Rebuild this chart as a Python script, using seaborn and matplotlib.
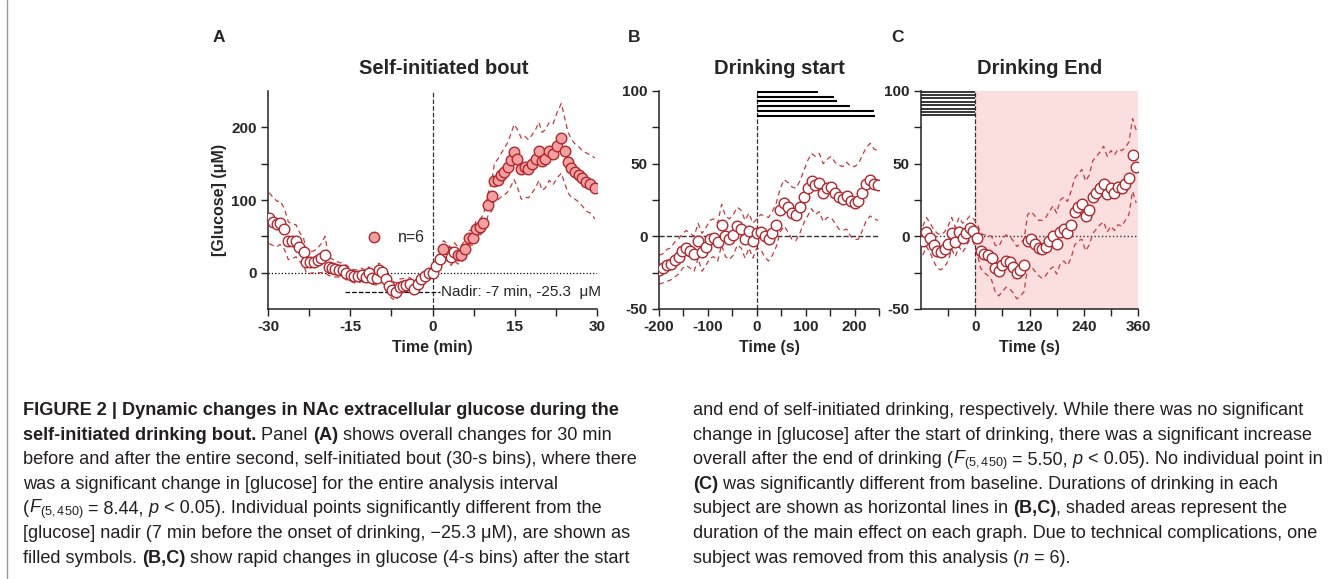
import numpy as np
import pandas as pd
import matplotlib
matplotlib.use("Agg")
import matplotlib.pyplot as plt
import seaborn as sns
from matplotlib.lines import Line2D

# ---- panel A: 30-s bins, mean and SEM (uM) ----
a_t_pre = [-29.8, -29.0, -28.3, -27.8, -27.0, -26.3, -25.6, -24.9, -24.3, -23.5,
           -23.0, -22.4, -21.6, -20.9, -20.3, -19.6, -18.9, -18.3, -17.7, -17.0,
           -16.3, -15.7, -14.9, -14.3, -13.5, -12.9, -12.2, -11.6, -11.0, -10.2,
           -9.8, -9.3, -8.5, -7.9, -7.3, -6.6, -6.0, -5.4, -4.8, -4.1,
           -3.4, -2.7, -2.1, -1.3, -0.7]
a_v_pre = [75, 70, 67, 69, 60, 44, 43, 44, 36, 29,
           15, 14, 15, 17, 20, 25, 8, 7, 5, 4,
           3, 0, -3, -5, -5, -3, -6, -1, -7, -8,
           3, 1, -9, -19, -24, -26, -20, -18, -17, -16,
           -22, -16, -9, -5, -1]
a_sem_pre = [35, 33, 31, 30, 28, 26, 24, 22, 20, 18,
             16, 15, 15, 17, 20, 25, 12, 12, 11, 10,
             10, 10, 9, 9, 9, 9, 9, 9, 9, 9,
             10, 10, 11, 12, 12, 12, 11, 10, 9, 9,
             8, 8, 7, 6, 5]
a_t_post = [0.0, 0.7, 1.3, 2.0, 2.7, 3.4, 4.0, 4.6, 5.2, 5.9,
            6.6, 7.3, 7.9, 8.7, 9.3, 10.1, 10.8, 11.3, 11.9, 12.5,
            13.1, 13.7, 14.3, 14.9, 15.5, 16.2, 16.8, 17.5, 18.1, 18.8,
            19.4, 20.0, 20.6, 21.3, 22.0, 22.7, 23.5, 24.1, 24.7, 25.3,
            26.0, 26.7, 27.3, 28.0, 28.8, 29.6]
a_v_post = [0, 9, 19, 32, 28, 22, 29, 24, 25, 32,
            48, 48, 60, 63, 68, 93, 105, 126, 128, 134,
            139, 145, 155, 166, 157, 143, 146, 143, 149, 157,
            167, 153, 157, 167, 163, 175, 185, 168, 152, 144,
            139, 135, 130, 125, 122, 116]
a_sem_post = [5, 8, 10, 12, 12, 12, 12, 12, 12, 12,
              10, 10, 10, 11, 12, 15, 20, 25, 28, 30,
              32, 34, 36, 38, 40, 42, 42, 40, 40, 40,
              40, 40, 40, 40, 42, 45, 48, 45, 42, 40,
              38, 38, 38, 40, 40, 42]
a_open_after_zero = [0.0, 0.7, 1.3, 2.7, 3.4, 4.0]   # not significant vs nadir

# ---- panel B: drinking start (4-s bins shown every 8 s) ----
b_t = list(range(-200, 249, 8))
b_v = [-23, -22, -20, -19, -16, -14, -10, -8, -10, -12,
       -3, -11, -7, -2, -1, -4, 8, 0, -2, 1,
       7, 5, -2, 4, -3, 2, 3, 0, -2, 2,
       8, 18, 23, 20, 16, 15, 20, 27, 33, 38,
       35, 37, 30, 33, 34, 30, 27, 26, 28, 24,
       23, 24, 30, 36, 39, 36, 35]
b_sem = [10, 10, 11, 11, 12, 12, 12, 12, 12, 12,
         12, 13, 13, 13, 13, 13, 14, 14, 14, 14,
         13, 13, 13, 12, 12, 10, 12, 14, 15, 15,
         15, 15, 16, 17, 18, 18, 18, 18, 19, 19,
         20, 20, 20, 20, 21, 21, 22, 22, 23, 24,
         25, 26, 26, 25, 25, 24, 24]
b_drink = [125, 158, 164, 190, 239, 242]   # drinking durations (s)

# ---- panel C: drinking end ----
c_t = list(range(-116, 357, 8))
c_v = [-3, 3, -1, -6, -10, -11, -9, -5, 2, -4,
       3, -1, 2, 6, 4, -1, -10, -12, -13, -15,
       -22, -24, -20, -17, -18, -21, -25, -23, -20, -3,
       -2, -5, -8, -9, -7, -3, 0, -5, 3, 5,
       2, 8, 17, 20, 22, 14, 18, 27, 30, 33,
       36, 29, 33, 30, 34, 33, 36, 40, 56, 48]
c_sem = [10, 10, 10, 11, 12, 12, 12, 12, 11, 10,
         10, 10, 9, 8, 8, 10, 12, 13, 14, 15,
         16, 17, 18, 18, 18, 18, 18, 18, 18, 18,
         19, 19, 19, 20, 20, 20, 21, 21, 22, 22,
         22, 23, 23, 23, 24, 24, 24, 25, 25, 25,
         26, 26, 26, 26, 26, 26, 25, 25, 25, 25]
c_n_lines = 8

W, H = 1341, 579
EDGE = "#b3262b"
FILL = "#f3a0a0"
BAND = "#c43a3e"
SHADE = "#fbdede"

sns.set_style("ticks")
plt.rcParams["font.family"] = ["Liberation Sans", "DejaVu Sans"]
plt.rcParams["axes.unicode_minus"] = False
plt.rcParams["mathtext.fontset"] = "custom"
plt.rcParams["mathtext.rm"] = "Liberation Sans"
plt.rcParams["mathtext.it"] = "Liberation Sans:italic"
plt.rcParams["mathtext.bf"] = "Liberation Sans:bold"

fig = plt.figure(figsize=(W / 100, H / 100), dpi=100)


def ax_at(l, t, r, b):
    return fig.add_axes([l / W, 1 - b / H, (r - l) / W, (b - t) / H])


def style_axis(ax):
    sns.despine(ax=ax)
    for s in ["left", "bottom"]:
        ax.spines[s].set_color("#222222")
        ax.spines[s].set_linewidth(1.1)
    ax.tick_params(which="both", length=5, width=1, color="#222222",
                   labelsize=11, pad=3)
    for lbl in ax.get_xticklabels() + ax.get_yticklabels():
        lbl.set_fontweight("bold")
    ax.set_xlabel(ax.get_xlabel(), fontsize=11.5, fontweight="bold", labelpad=4)
    ax.set_ylabel(ax.get_ylabel(), fontsize=11.5, fontweight="bold", labelpad=3)
    ax.set_facecolor("none")


def draw_series(ax, df, open_mask):
    sns.lineplot(x=df["t"], y=df["v"] + df["sem"], ax=ax, color=BAND, lw=0.9,
                 linestyle=(0, (4, 3)), estimator=None, sort=False)
    sns.lineplot(x=df["t"], y=df["v"] - df["sem"], ax=ax, color=BAND, lw=0.9,
                 linestyle=(0, (4, 3)), estimator=None, sort=False)
    sns.scatterplot(data=df[open_mask], x="t", y="v", ax=ax, s=58, color="white",
                    edgecolor=EDGE, linewidth=1, zorder=3)
    if (~open_mask).any():
        sns.scatterplot(data=df[~open_mask], x="t", y="v", ax=ax, s=58, color=FILL,
                        edgecolor=EDGE, linewidth=1, zorder=4)


# ---------- Panel A ----------
axA = ax_at(268, 91, 597, 309)
dfa = pd.DataFrame({"t": a_t_pre + a_t_post, "v": a_v_pre + a_v_post,
                    "sem": a_sem_pre + a_sem_post})
open_a = (dfa["t"] < 0) | dfa["t"].isin(a_open_after_zero)
axA.axhline(0, color="black", ls=":", lw=0.9, zorder=1)
axA.axvline(0, color="#333333", ls="--", lw=0.9, zorder=1)
draw_series(axA, dfa, open_a)
axA.plot([-15.9, 1.3], [-26, -26], color="black", ls="--", lw=0.9)
axA.text(1.6, -26, "Nadir: -7 min, -25.3  \u03bcM", fontsize=11, va="center", ha="left")
key = Line2D([], [], marker="o", ls="", mfc=FILL, mec=EDGE, ms=7.5, mew=1)
axA.legend([key], ["n=6"], frameon=False, loc="center left",
           bbox_to_anchor=(0.27, 0.326), handlelength=1.2, handletextpad=0.9,
           fontsize=11.5, borderpad=0)
axA.set_xlim(-30, 30)
axA.set_ylim(-50, 250)
axA.set_xticks([-30, -15, 0, 15, 30])
axA.set_xticks([-22.5, -7.5, 7.5, 22.5], minor=True)
axA.set_yticks([0, 100, 200])
axA.set_yticks([50, 150], minor=True)
axA.set_xlabel("Time (min)")
axA.set_ylabel("[Glucose] (\u03bcM)")
style_axis(axA)

# ---------- Panel B ----------
axB = ax_at(659, 91, 879, 309)
dfb = pd.DataFrame({"t": b_t, "v": b_v, "sem": b_sem})
axB.axhline(0, color="#333333", ls="--", lw=1.0, zorder=1)
axB.axvline(0, color="#333333", ls="--", lw=0.9, zorder=1)
levels_b = np.linspace(99.6, 82.6, len(b_drink))
axB.hlines(levels_b, 0, b_drink, color="black", lw=1.5)
draw_series(axB, dfb, pd.Series(True, index=dfb.index))
axB.set_xlim(-200, 250)
axB.set_ylim(-50, 100)
axB.set_xticks([-200, -100, 0, 100, 200])
axB.set_xticks([-150, -50, 50, 150, 250], minor=True)
axB.set_yticks([-50, 0, 50, 100])
axB.set_yticks([-25, 25, 75], minor=True)
axB.set_xlabel("Time (s)")
axB.set_ylabel("")
style_axis(axB)

# ---------- Panel C ----------
axC = ax_at(921, 91, 1138, 309)
dfc = pd.DataFrame({"t": c_t, "v": c_v, "sem": c_sem})
axC.axvspan(0, 360, color=SHADE, lw=0, zorder=0)
axC.axhline(0, color="#333333", ls=":", lw=1.0, zorder=1)
axC.axvline(0, color="#333333", ls="--", lw=0.9, zorder=1)
levels_c = np.linspace(99.6, 83.2, c_n_lines)
axC.hlines(levels_c, -120, 0, color="black", lw=1.1)
draw_series(axC, dfc, pd.Series(True, index=dfc.index))
axC.set_xlim(-120, 360)
axC.set_ylim(-50, 100)
axC.set_xticks([0, 120, 240, 360])
axC.set_xticks([-60, 60, 180, 300], minor=True)
axC.set_yticks([-50, 0, 50, 100])
axC.set_yticks([-25, 25, 75], minor=True)
axC.set_xlabel("Time (s)")
axC.set_ylabel("")
style_axis(axC)

# ---------- titles / panel letters ----------
for x, txt in [(213, "A"), (628, "B"), (891, "C")]:
    fig.text(x / W, 1 - 38 / H, txt, fontsize=12.5, fontweight="bold",
             ha="left", va="center")
for x, txt in [(444, "Self-initiated bout"), (779, "Drinking start"), (1040, "Drinking End")]:
    fig.text(x / W, 1 - 68 / H, txt, fontsize=14.5, fontweight="bold",
             ha="center", va="center")

# frame line at left
fig.add_artist(Line2D([7 / W, 7 / W], [0, 1], transform=fig.transFigure,
                      color="#9a9a9a", lw=1))

# ---------- caption ----------
renderer = fig.canvas.get_renderer()
STY = {"n": dict(fontweight="normal", fontstyle="normal"),
       "b": dict(fontweight="bold", fontstyle="normal"),
       "i": dict(fontweight="normal", fontstyle="italic")}


def seg_width(txt, size, kind):
    t1 = fig.text(0, 0, txt + "|", fontsize=size, **STY[kind])
    t2 = fig.text(0, 0, "|", fontsize=size, **STY[kind])
    w = t1.get_window_extent(renderer).width - t2.get_window_extent(renderer).width
    t1.remove()
    t2.remove()
    return w


ref_line = "before and after the entire second, self-initiated bout (30-s bins), where there"
cap_size = 10 * 617 / seg_width(ref_line, 10, "n")

left_lines = [
    [("FIGURE 2 | Dynamic changes in NAc extracellular glucose during the", "b")],
    [("self-initiated drinking bout.", "b"), (" Panel ", "n"), ("(A)", "b"),
     (" shows overall changes for 30 min", "n")],
    [(ref_line, "n")],
    [("was a significant change in [glucose] for the entire analysis interval", "n")],
    [("(", "n"), ("$F_{(5,450)}$", "n"), (" = 8.44, ", "n"), ("p", "i"),
     (" < 0.05). Individual points significantly different from the", "n")],
    [("[glucose] nadir (7 min before the onset of drinking, \u221225.3 \u03bcM), are shown as", "n")],
    [("filled symbols. ", "n"), ("(B,C)", "b"),
     (" show rapid changes in glucose (4-s bins) after the start", "n")],
]
right_lines = [
    [("and end of self-initiated drinking, respectively. While there was no significant", "n")],
    [("change in [glucose] after the start of drinking, there was a significant increase", "n")],
    [("overall after the end of drinking (", "n"), ("$F_{(5,450)}$", "n"), (" = 5.50, ", "n"),
     ("p", "i"), (" < 0.05). No individual point in", "n")],
    [("(C)", "b"), (" was significantly different from baseline. Durations of drinking in each", "n")],
    [("subject are shown as horizontal lines in ", "n"), ("(B,C)", "b"),
     (", shaded areas represent the", "n")],
    [("duration of the main effect on each graph. Due to technical complications, one", "n")],
    [("subject was removed from this analysis (", "n"), ("n", "i"), (" = 6).", "n")],
]


def draw_lines(lines, x0):
    for i, segs in enumerate(lines):
        y = 415 + i * 24.6
        x = x0
        for txt, kind in segs:
            fig.text(x / W, 1 - y / H, txt, fontsize=cap_size, ha="left",
                     va="baseline", color="#231f20", **STY[kind])
            x += seg_width(txt, cap_size, kind)


draw_lines(left_lines, 23)
draw_lines(right_lines, 693)

fig.savefig("out.png", dpi=100, facecolor="white")
